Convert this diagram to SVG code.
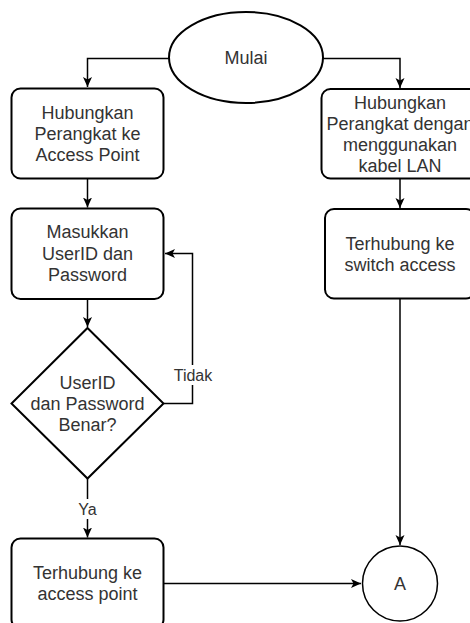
<svg xmlns="http://www.w3.org/2000/svg" width="470" height="623" viewBox="0 0 470 623">
  <defs>
    <style>
      .shape { fill: #ffffff; stroke: #000000; stroke-width: 2; }
      .thin { fill: #ffffff; stroke: #000000; stroke-width: 1.5; }
      .edge { fill: none; stroke: #000000; stroke-width: 1.5; }
      .txt { font-family: "Liberation Sans", Arial, sans-serif; font-size: 18px; fill: #333333; text-anchor: middle; }
      .lbl { font-family: "Liberation Sans", Arial, sans-serif; font-size: 16px; fill: #333333; text-anchor: middle; }
    </style>
    <marker id="arrow" markerUnits="userSpaceOnUse" markerWidth="11" markerHeight="10" refX="10" refY="4.5" orient="auto">
      <path d="M0,0 L10,4.5 L0,9 L2.5,4.5 z" fill="#000000"/>
    </marker>
  </defs>

  <g id="connectors">
    <path class="edge" d="M169,58.5 H87.5 V87" marker-end="url(#arrow)"/>
    <path class="edge" d="M323,58.5 H400 V88" marker-end="url(#arrow)"/>
    <path class="edge" d="M87.5,178.5 V207.5" marker-end="url(#arrow)"/>
    <path class="edge" d="M400,178.5 V208" marker-end="url(#arrow)"/>
    <path class="edge" d="M87.5,299 V327" marker-end="url(#arrow)"/>
    <path class="edge" d="M163.5,403.5 H192.5 V253.5 H165" marker-end="url(#arrow)"/>
    <path class="edge" d="M87.5,478.5 V537.5" marker-end="url(#arrow)"/>
    <path class="edge" d="M400,298.5 V545" marker-end="url(#arrow)"/>
    <path class="edge" d="M163.5,583.5 H361" marker-end="url(#arrow)"/>
    <g id="label-tidak">
      <rect x="172" y="365" width="42" height="20" fill="#ffffff"/>
      <text class="lbl" x="193" y="381">Tidak</text>
    </g>
    <g id="label-ya">
      <rect x="76" y="499" width="23" height="20" fill="#ffffff"/>
      <text class="lbl" x="87.5" y="514.5">Ya</text>
    </g>
  </g>

  <g id="mulai">
    <ellipse class="shape" cx="246" cy="57.5" rx="77" ry="45.5"/>
    <text class="txt" x="246" y="64">Mulai</text>
  </g>

  <g id="hubungkan-ap">
    <rect class="shape" x="11.5" y="88.5" width="152" height="90" rx="9" ry="9"/>
    <text class="txt" x="87.5" y="119">Hubungkan</text>
    <text class="txt" x="87.5" y="140">Perangkat ke</text>
    <text class="txt" x="87.5" y="161">Access Point</text>
  </g>

  <g id="hubungkan-lan">
    <rect class="shape" x="321.5" y="89" width="157" height="89.5" rx="9" ry="9"/>
    <text class="txt" x="400" y="108.5">Hubungkan</text>
    <text class="txt" x="400" y="129.5">Perangkat dengan</text>
    <text class="txt" x="400" y="150.5">menggunakan</text>
    <text class="txt" x="400" y="171.5">kabel LAN</text>
  </g>

  <g id="masukkan">
    <rect class="shape" x="11.5" y="208.5" width="152" height="90.5" rx="9" ry="9"/>
    <text class="txt" x="87.5" y="238">Masukkan</text>
    <text class="txt" x="87.5" y="259.5">UserID dan</text>
    <text class="txt" x="87.5" y="281">Password</text>
  </g>

  <g id="switch-access">
    <rect class="shape" x="325" y="209" width="150" height="89.5" rx="9" ry="9"/>
    <text class="txt" x="400" y="250">Terhubung ke</text>
    <text class="txt" x="400" y="271">switch access</text>
  </g>

  <g id="cek-login">
    <polygon class="shape" points="87.5,328 163.5,403.5 87.5,478.5 11.5,403.5"/>
    <text class="txt" x="87.5" y="388.5">UserID</text>
    <text class="txt" x="87.5" y="409.5">dan Password</text>
    <text class="txt" x="87.5" y="430.5">Benar?</text>
  </g>

  <g id="access-point">
    <rect class="shape" x="11.5" y="538.5" width="152" height="90" rx="9" ry="9"/>
    <text class="txt" x="87.5" y="579">Terhubung ke</text>
    <text class="txt" x="87.5" y="600">access point</text>
  </g>

  <g id="konektor-a">
    <circle class="thin" cx="400" cy="583.5" r="37.5"/>
    <text class="txt" x="400" y="590">A</text>
  </g>
</svg>
